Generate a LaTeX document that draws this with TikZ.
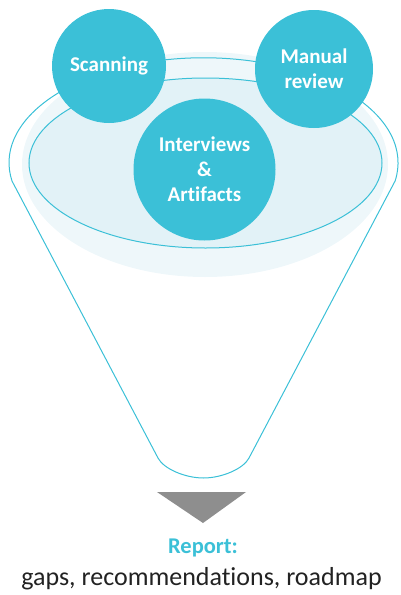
\documentclass[tikz,border=0pt]{standalone}
\usepackage{fontspec}
\setmainfont{Carlito}[Ligatures={NoCommon,NoContextual}]
\definecolor{cy}{HTML}{3BC0D7}
\definecolor{halo}{HTML}{EEF7FA}
\definecolor{inner}{HTML}{E2F2F7}
\definecolor{tri}{HTML}{8E8E8E}
\definecolor{txt}{HTML}{222222}
\tikzset{
  bubble/.style={circle, fill=cy, text=white, font=\fontsize{21}{25}\selectfont\bfseries, align=center, inner sep=0pt},
  funnelline/.style={draw=cy, line width=1pt, line join=round},
}
\begin{document}
\begin{tikzpicture}[x=1pt,y=1pt]
\useasboundingbox (0,0) rectangle (400,-595);
% halo
\fill[halo] (205,-164.5) ellipse [x radius=183pt, y radius=112.5pt];
% funnel outline
\coordinate (lc) at (12,-181);
\coordinate (rc) at (395,-181);
\coordinate (lb) at (158,-458);
\coordinate (rb) at (249,-458);
\coordinate (bm) at (203.5,-478);
\draw[funnelline] (lc) arc [start angle=190, end angle=-10, x radius=194.5pt, y radius=105pt]
  -- (rb) .. controls (243.5,-468.7) and (222,-478) .. (bm)
  .. controls (185,-478) and (163.5,-468.7) .. (lb) -- cycle;
% inner ellipse
\draw[fill=inner, draw=cy, line width=1pt] (205.5,-163) ellipse [x radius=176.5pt, y radius=85pt];
% bubbles
\node[bubble, minimum size=114pt] (scan) at (109,-66) {Scanning};
\node[bubble, minimum size=118pt] (manual) at (314,-69) {Manual\\review};
\node[bubble, minimum size=142pt] (inter) at (204.5,-169.5) {Interviews\\\&\\Artifacts};
% arrow triangle
\coordinate (t1) at (157,-492);
\coordinate (t2) at (246,-492);
\coordinate (t3) at (203,-523);
\fill[tri] (t1) -- (t2) -- (t3) -- cycle;
% texts
\node[font=\fontsize{22.5}{26}\selectfont\bfseries, text=cy] (report) at (203,-548) {Report:};
\node[font=\fontsize{26}{30}\selectfont, text=txt] (details) at (201.5,-579) {gaps, recommendations, roadmap};
\end{tikzpicture}
\end{document}
